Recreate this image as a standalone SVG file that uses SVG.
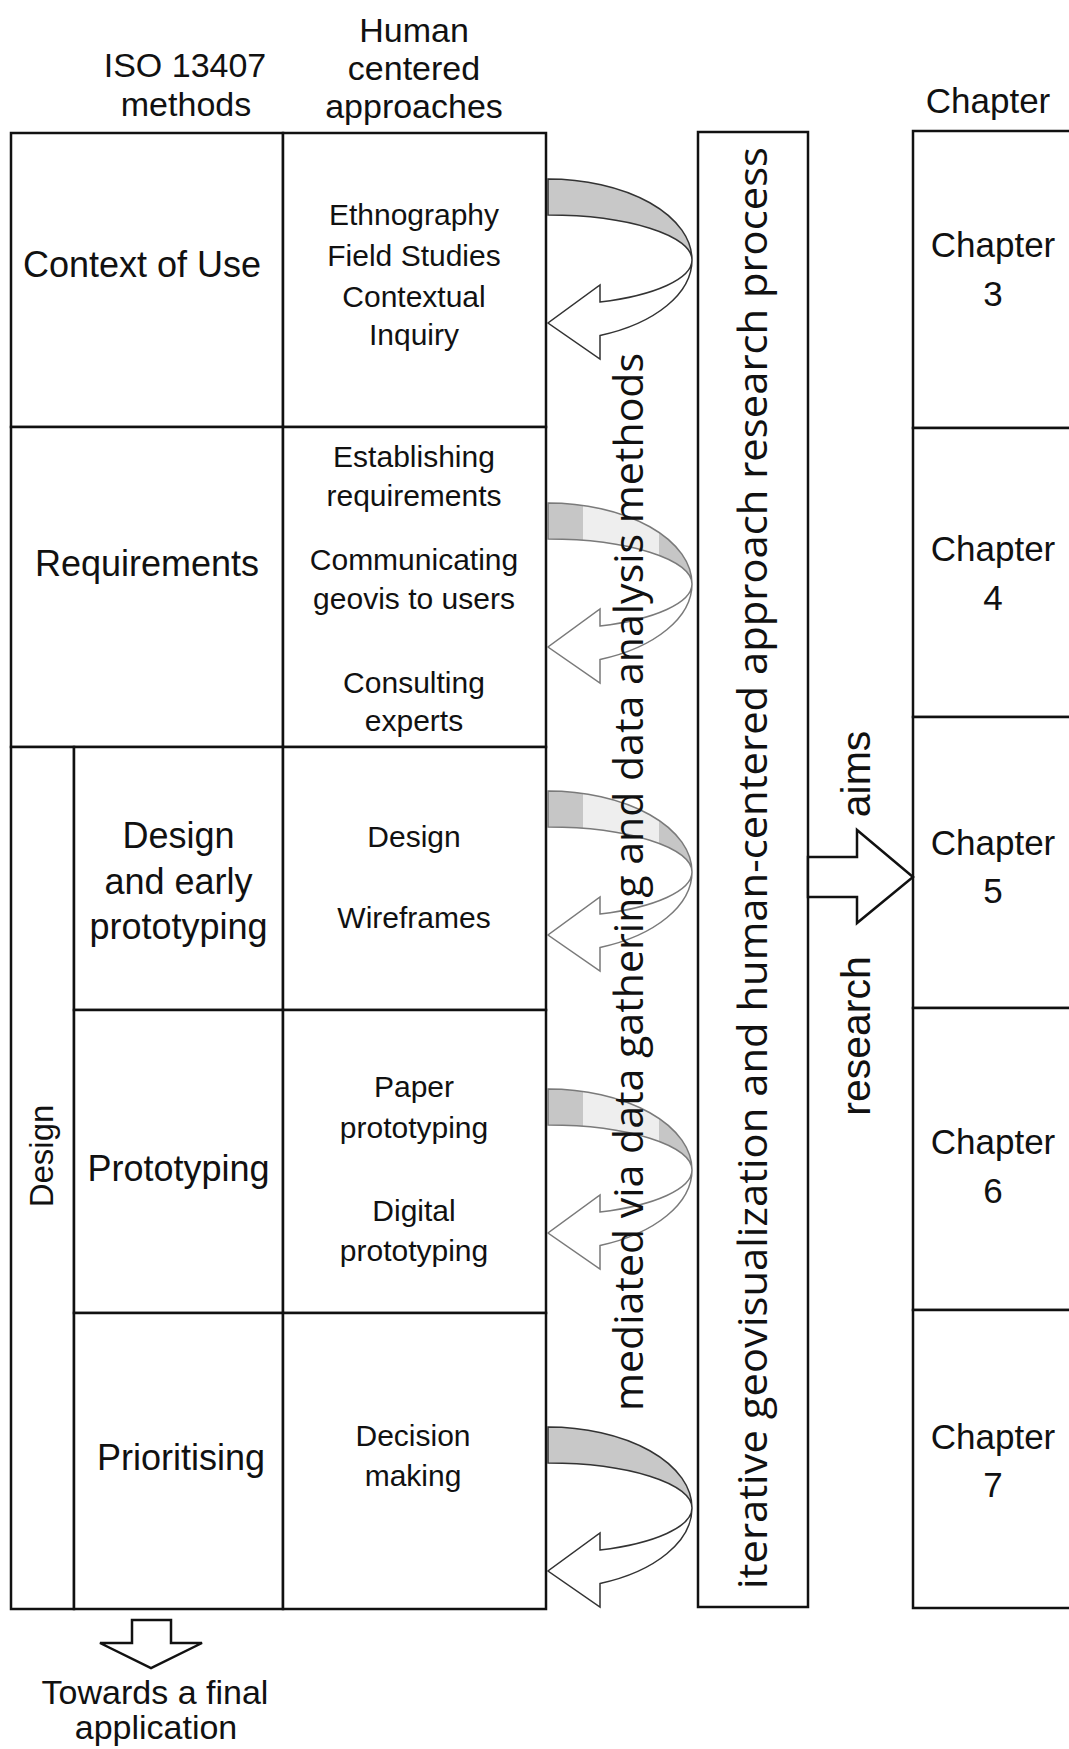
<svg xmlns="http://www.w3.org/2000/svg" width="1069" height="1749" viewBox="0 0 1069 1749">
<defs>
<style>
.t{font-family:"Liberation Sans",Arial,sans-serif;fill:#111;text-anchor:middle;dominant-baseline:central}
.h{font-size:34px}
.c{font-size:36px}
.s{font-size:30px}
.ch{font-size:35px}
.r{font-family:"Liberation Sans",Arial,sans-serif;fill:#111;text-anchor:middle;font-size:41px}
.v{font-family:"Open Sans","Liberation Sans",sans-serif;fill:#111;text-anchor:middle;font-size:41px}
.box{fill:#fff;stroke:#111;stroke-width:2.5}
.blk{fill:#fff;stroke:#111;stroke-width:2.5;stroke-linejoin:miter}
.arS{stroke:#333;stroke-width:1.5}
.arG{stroke:#7a7a7a;stroke-width:1.5}
</style>
<linearGradient id="bandGrad" gradientUnits="userSpaceOnUse" x1="548" y1="0" x2="692" y2="0">
<stop offset="0" stop-color="#c6c6c6"/>
<stop offset="0.24" stop-color="#c6c6c6"/>
<stop offset="0.24" stop-color="#eeeeee"/>
<stop offset="0.77" stop-color="#eeeeee"/>
<stop offset="0.77" stop-color="#c6c6c6"/>
<stop offset="1" stop-color="#c6c6c6"/>
</linearGradient>
<g id="curveSolid">
<path d="M548,0 A144,81 0 0 1 692,81 A144,45 0 0 0 548,36 Z" fill="#c8c8c8"/>
<path d="M692,81 A144,81 0 0 1 600,156.5 L600,180 L548,144 L600,106 L600,123 A144,45 0 0 0 692,81 Z" fill="#fff"/>
</g>
<g id="curveGrad">
<path d="M548,0 A144,81 0 0 1 692,81 A144,45 0 0 0 548,36 Z" fill="url(#bandGrad)"/>
<path d="M692,81 A144,81 0 0 1 600,156.5 L600,180 L548,144 L600,106 L600,123 A144,45 0 0 0 692,81 Z" fill="#fff"/>
</g>
</defs>
<rect width="1069" height="1749" fill="#fff"/>

<g id="headers">
<g id="header-iso"><text class="t h" x="185" y="65">ISO 13407</text><text class="t h" x="186" y="104">methods</text></g>
<g id="header-human"><text class="t h" x="414" y="30">Human</text><text class="t h" x="414" y="68">centered</text><text class="t h" x="414" y="106">approaches</text></g>
<g id="header-chapter"><text class="t ch" x="988" y="100">Chapter</text></g>
</g>

<g id="node-context"><rect class="box" x="11" y="133" width="272" height="294"/><text class="t c" x="142" y="264">Context of Use</text></g>
<g id="node-context-approaches"><rect class="box" x="283" y="133" width="263" height="294"/>
<text class="t s" x="414" y="214">Ethnography</text><text class="t s" x="414" y="255">Field Studies</text><text class="t s" x="414" y="296">Contextual</text><text class="t s" x="414" y="334">Inquiry</text></g>

<g id="node-requirements"><rect class="box" x="11" y="427" width="272" height="320"/><text class="t c" x="147" y="563">Requirements</text></g>
<g id="node-requirements-approaches"><rect class="box" x="283" y="427" width="263" height="320"/>
<text class="t s" x="414" y="456">Establishing</text><text class="t s" x="414" y="495">requirements</text><text class="t s" x="414" y="559">Communicating</text><text class="t s" x="414" y="598">geovis to users</text><text class="t s" x="414" y="682">Consulting</text><text class="t s" x="414" y="720">experts</text></g>

<g id="node-design"><rect class="box" x="11" y="747" width="63" height="862"/><text class="t" style="font-size:33px;dominant-baseline:alphabetic" transform="translate(53,1156) rotate(-90)">Design</text></g>

<g id="node-design-early"><rect class="box" x="74" y="747" width="209" height="263"/>
<text class="t c" x="178.5" y="835">Design</text><text class="t c" x="178.5" y="881">and early</text><text class="t c" x="178.5" y="926">prototyping</text></g>
<g id="node-design-approaches"><rect class="box" x="283" y="747" width="263" height="263"/>
<text class="t s" x="414" y="836">Design</text><text class="t s" x="414" y="917">Wireframes</text></g>

<g id="node-prototyping"><rect class="box" x="74" y="1010" width="209" height="303"/><text class="t c" x="178.5" y="1168">Prototyping</text></g>
<g id="node-prototyping-approaches"><rect class="box" x="283" y="1010" width="263" height="303"/>
<text class="t s" x="414" y="1086">Paper</text><text class="t s" x="414" y="1127">prototyping</text><text class="t s" x="414" y="1210">Digital</text><text class="t s" x="414" y="1250">prototyping</text></g>

<g id="node-prioritising"><rect class="box" x="74" y="1313" width="209" height="296"/><text class="t c" x="181" y="1457">Prioritising</text></g>
<g id="node-prioritising-approaches"><rect class="box" x="283" y="1313" width="263" height="296"/>
<text class="t s" x="413" y="1435">Decision</text><text class="t s" x="413" y="1475">making</text></g>

<g id="node-process"><rect class="box" x="698" y="132" width="110" height="1475"/>
<text class="v" transform="translate(767,868) rotate(-90)" textLength="1442" lengthAdjust="spacingAndGlyphs">iterative geovisualization and human-centered approach research process</text></g>

<g id="node-chapter3"><rect class="box" x="913" y="131" width="170" height="297"/><text class="t ch" x="993" y="244">Chapter</text><text class="t ch" x="993" y="293">3</text></g>
<g id="node-chapter4"><rect class="box" x="913" y="428" width="170" height="289"/><text class="t ch" x="993" y="548">Chapter</text><text class="t ch" x="993" y="597">4</text></g>
<g id="node-chapter5"><rect class="box" x="913" y="717" width="170" height="291"/><text class="t ch" x="993" y="842">Chapter</text><text class="t ch" x="993" y="890">5</text></g>
<g id="node-chapter6"><rect class="box" x="913" y="1008" width="170" height="302"/><text class="t ch" x="993" y="1141">Chapter</text><text class="t ch" x="993" y="1190">6</text></g>
<g id="node-chapter7"><rect class="box" x="913" y="1310" width="170" height="298"/><text class="t ch" x="993" y="1436">Chapter</text><text class="t ch" x="993" y="1484">7</text></g>

<g id="connectors">
<use href="#curveSolid" class="arS" transform="translate(0,179)"/>
<use href="#curveGrad" class="arG" transform="translate(0,503)"/>
<use href="#curveGrad" class="arG" transform="translate(0,791)"/>
<use href="#curveGrad" class="arG" transform="translate(0,1089)"/>
<use href="#curveSolid" class="arS" transform="translate(0,1427)"/>
<text class="v" transform="translate(643,882) rotate(-90)" textLength="1058" lengthAdjust="spacingAndGlyphs">mediated via data gathering and data analysis methods</text>
<polygon class="blk" points="808,857 857,857 857,830 913,877 857,923 857,897 808,897"/>
<text class="r" transform="translate(870,774) rotate(-90)">aims</text>
<text class="r" transform="translate(870,1036) rotate(-90)">research</text>
<polygon class="blk" points="132,1620 171,1620 171,1643 202,1643 151,1668 100,1643 132,1643"/>
</g>

<g id="footer"><text class="t h" x="155" y="1692">Towards a final</text><text class="t h" x="156" y="1727">application</text></g>
</svg>
